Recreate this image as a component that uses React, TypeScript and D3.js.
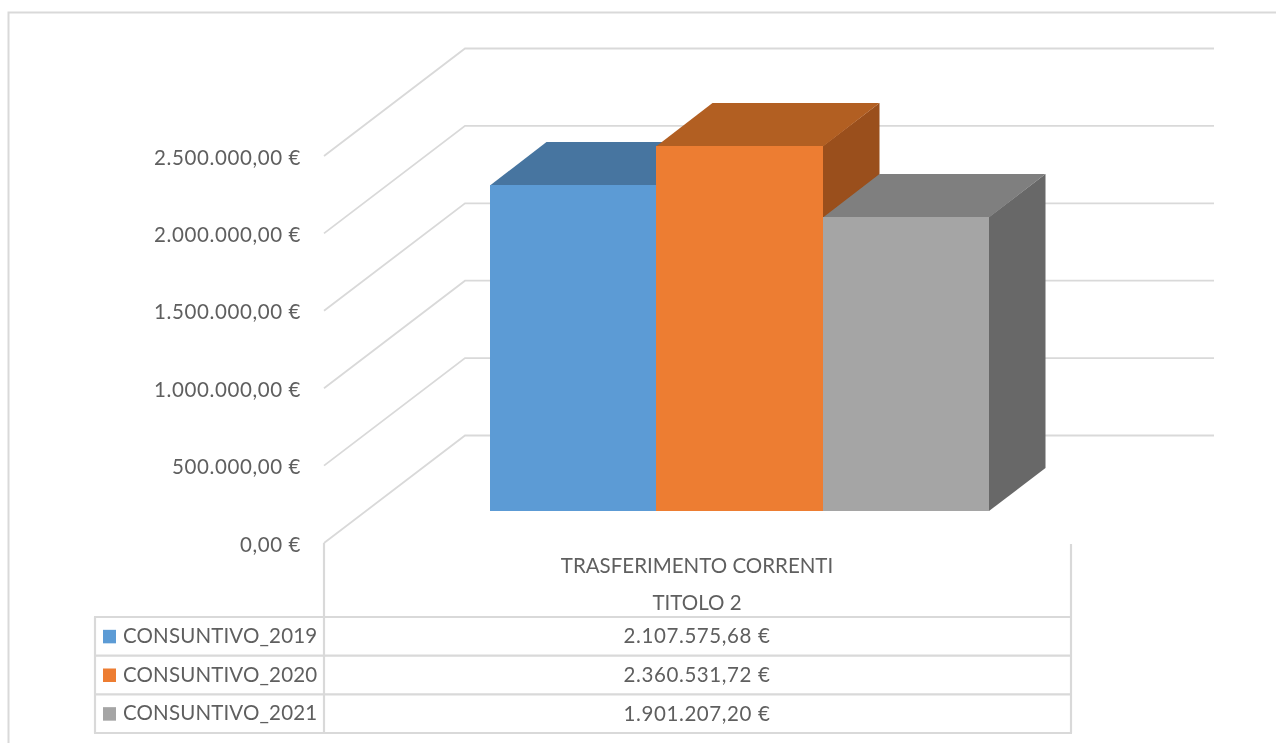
import React from "react";
import * as d3 from "d3";

const tickValues = [0, 500000, 1000000, 1500000, 2000000, 2500000];
const tickLabels = ["0,00 €", "500.000,00 €", "1.000.000,00 €", "1.500.000,00 €", "2.000.000,00 €", "2.500.000,00 €"];
const seriesNames = ["CONSUNTIVO_2019", "CONSUNTIVO_2020", "CONSUNTIVO_2021"];
const seriesValues = [2107575.68, 2360531.72, 1901207.2];
const seriesLabels = ["2.107.575,68 €", "2.360.531,72 €", "1.901.207,20 €"];
const categoryLines = ["TRASFERIMENTO CORRENTI", "TITOLO 2"];
const frontColors = ["#5B9BD5", "#ED7D31", "#A5A5A5"];
const topColors = ["#4675A0", "#B25E22", "#7F7F7F"];
const sideColors = ["#3F6A91", "#9A4F1B", "#686868"];

const FONT = "Lato, 'Open Sans', sans-serif";
const GRID = "#D9D9D9";
const TEXT = "#5F5F5F";
const FS = 20.5;
const NUM_SPACING = 0.6;

const axisY = d3.scaleLinear().domain([0, 2500000]).range([543, 156]);
const barY = d3.scaleLinear().domain([0, 2500000]).range([511, 124]);
const barX = d3.scaleBand<number>().domain([0, 1, 2]).range([490, 989]);
const rowY = d3.scalePoint<number>().domain([0, 1, 2, 3]).range([617, 733]);

const wall = { dx: 141, dy: -107.5, right: 1214, left: 324 };
const depth = { dx: 56.5, dy: -43 };

export default function App() {
  const line = d3.line();
  return (
    <svg
      width={1276}
      height={743}
      style={{ position: "fixed", left: 0, top: 0, background: "#fff", display: "block" }}
      fontFamily={FONT}
    >
      <defs>
        <filter id="soft" x="0" y="0" width="100%" height="100%" filterUnits="userSpaceOnUse" primitiveUnits="userSpaceOnUse">
          <feGaussianBlur stdDeviation="0.45" />
        </filter>
      </defs>
      <g filter="url(#soft)">
        <rect width={1276} height={743} fill="#fff" />
        <path d="M8.5,745 V12.5 H1280" fill="none" stroke={GRID} strokeWidth={2} />

        {tickValues.map((v, i) => {
          const y = axisY(v);
          return (
            <g key={v}>
              <path
                d={line([
                  [wall.left, y],
                  [wall.left + wall.dx, y + wall.dy],
                  [wall.right, y + wall.dy],
                ])!}
                fill="none"
                stroke={GRID}
                strokeWidth={1.8}
              />
              <text x={301} y={y + 8.5} textAnchor="end" fontSize={FS} letterSpacing={NUM_SPACING} fill={TEXT}>
                {tickLabels[i]}
              </text>
            </g>
          );
        })}

        {seriesValues.map((v, i) => {
          const x0 = Math.round(barX(i)!);
          const x1 = Math.round(barX(i)! + barX.bandwidth());
          const yT = Math.round(barY(v));
          const yB = barY(0);
          return (
            <g key={seriesNames[i]}>
              <path
                d={line([[x1, yT], [x1 + depth.dx, yT + depth.dy], [x1 + depth.dx, yB + depth.dy], [x1, yB]])! + "Z"}
                fill={sideColors[i]}
              />
              <path
                d={line([[x0, yT + 0.5], [x0 + depth.dx, yT + depth.dy], [x1 + depth.dx, yT + depth.dy], [x1, yT + 0.5]])! + "Z"}
                fill={topColors[i]}
              />
              <rect x={x0} y={yT} width={x1 - x0} height={yB - yT} fill={frontColors[i]} />
            </g>
          );
        })}

        <g stroke={GRID} strokeWidth={2.2} fill="none">
          <path d="M324,543 V733" />
          <path d="M1071,544 V733" />
          <path d="M95,617 V733" />
          {rowY.domain().map((r) => (
            <path key={r} d={`M94,${rowY(r)} H1072`} />
          ))}
        </g>

        {categoryLines.map((t, i) => (
          <text key={t} x={697} y={[573, 610][i]} textAnchor="middle" fontSize={FS} fill={TEXT}>
            {t}
          </text>
        ))}

        {seriesNames.map((name, i) => {
          const top = rowY(i)!;
          const mid = (top + rowY(i + 1)!) / 2;
          return (
            <g key={name}>
              <rect x={103} y={mid - 6.5} width={13} height={13.5} fill={frontColors[i]} />
              <text x={123} y={mid + 6.8} fontSize={FS} letterSpacing={0.15} fill={TEXT}>
                {name}
              </text>
              <text x={697} y={mid + 7} textAnchor="middle" fontSize={FS} letterSpacing={NUM_SPACING} fill={TEXT}>
                {seriesLabels[i]}
              </text>
            </g>
          );
        })}
      </g>
    </svg>
  );
}
